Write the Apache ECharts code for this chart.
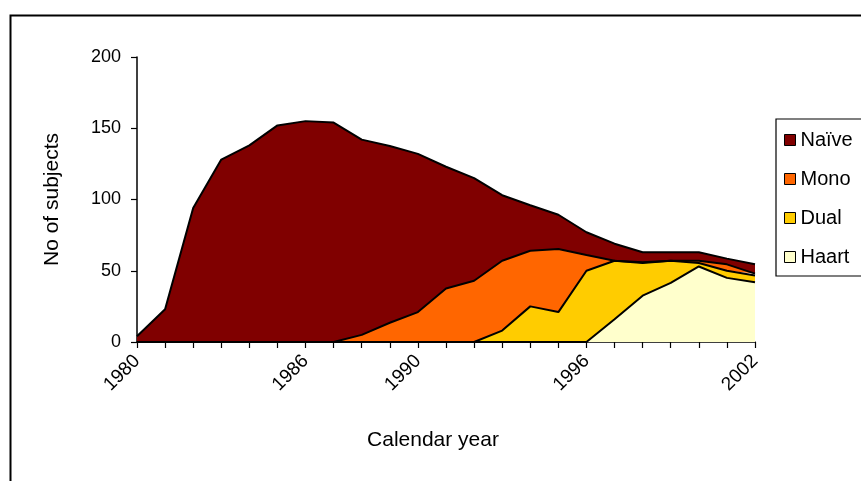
<!DOCTYPE html>
<html>
<head>
<meta charset="utf-8">
<script src="https://cdn.jsdelivr.net/npm/echarts@6/dist/echarts.min.js"></script>
<style>
html,body{margin:0;padding:0;background:#fff;}
#chart{width:861px;height:481px;}
</style>
</head>
<body>
<div id="chart"></div>
<script>
var years = ['1980','1981','1982','1983','1984','1985','1986','1987','1988','1989','1990','1991','1992','1993','1994','1995','1996','1997','1998','1999','2000','2001','2002'];
var shownYears = ['1980','1986','1990','1996','2002'];
var haart = [0,0,0,0,0,0,0,0,0,0,0,0,0,0,0,0,0,16,32.5,41.5,53,45,42];
var dual  = [0,0,0,0,0,0,0,0,0,0,0,0,0,8,25,21,50,41,23,15.5,2.5,5,4.6];
var mono  = [0,0,0,0,0,0,0,0,5,13.5,21,37.5,43,49,39,44.3,11,0,0.5,0,1.5,4.5,1.4];
var naive = [4,23,94,128,138,152,155,154,137,124,111,85.5,72,46,32,24,16,12,7,6,6,4,6.5];
var yTicks = [0,50,100,150,200];

var FONT = 'Liberation Sans, Arial, sans-serif';
var chart = echarts.init(document.getElementById('chart'));
function mk(name, data, color){
  return {
    name: name, type: 'line', stack: 'total', data: data,
    showSymbol: false, symbol: 'none',
    lineStyle: {color: '#000', width: 2},
    areaStyle: {color: color, opacity: 1},
    itemStyle: {color: color, borderColor: '#000', borderWidth: 1},
    emphasis: {disabled: true},
    animation: false
  };
}
chart.setOption({
  animation: false,
  graphic: [{
    type: 'rect', left: 8, top: 13,
    shape: {x: 0, y: 0, width: 900, height: 500},
    style: {fill: 'none', stroke: '#000', lineWidth: 2},
    z: 0
  }],
  grid: {left: 137, right: 106, top: 57, bottom: 139, containLabel: false},
  legend: {
    orient: 'vertical', left: 776, top: 119,
    data: ['Naïve','Mono','Dual','Haart'],
    icon: 'rect', itemWidth: 11, itemHeight: 11, itemGap: 19,
    padding: [11, 40, 9, 8],
    borderColor: '#000', borderWidth: 1.2,
    textStyle: {fontFamily: FONT, fontSize: 20, lineHeight: 20, color: '#000'},
    itemStyle: {borderColor: '#000', borderWidth: 1}
  },
  xAxis: {
    type: 'category', data: years, boundaryGap: false,
    name: 'Calendar year', nameLocation: 'middle', nameGap: 88,
    nameTextStyle: {fontFamily: FONT, fontSize: 21, color: '#000', padding: [0, 26, 0, 0]},
    axisLine: {lineStyle: {color: '#000', width: 1.5}},
    axisTick: {show: true, interval: 0, length: 6, lineStyle: {color: '#000', width: 1.2}},
    axisLabel: {
      interval: function(i, v){ return shownYears.indexOf(v) >= 0; },
      rotate: 45, margin: 16,
      fontFamily: FONT, fontSize: 19, color: '#000'
    },
    splitLine: {show: false}
  },
  yAxis: {
    type: 'value', min: yTicks[0], max: yTicks[yTicks.length-1], interval: 50,
    name: 'No of subjects', nameLocation: 'middle', nameGap: 74, nameRotate: 90,
    nameTextStyle: {fontFamily: FONT, fontSize: 21, color: '#000'},
    axisLine: {show: true, lineStyle: {color: '#000', width: 1.5}},
    axisTick: {show: true, length: 6, lineStyle: {color: '#000', width: 1.2}},
    axisLabel: {margin: 16, fontFamily: FONT, fontSize: 18, color: '#000'},
    splitLine: {show: false}
  },
  series: [
    mk('Haart', haart, '#FFFFCC'),
    mk('Dual', dual, '#FFCC00'),
    mk('Mono', mono, '#FF6600'),
    mk('Naïve', naive, '#800000')
  ]
});
</script>
</body>
</html>
